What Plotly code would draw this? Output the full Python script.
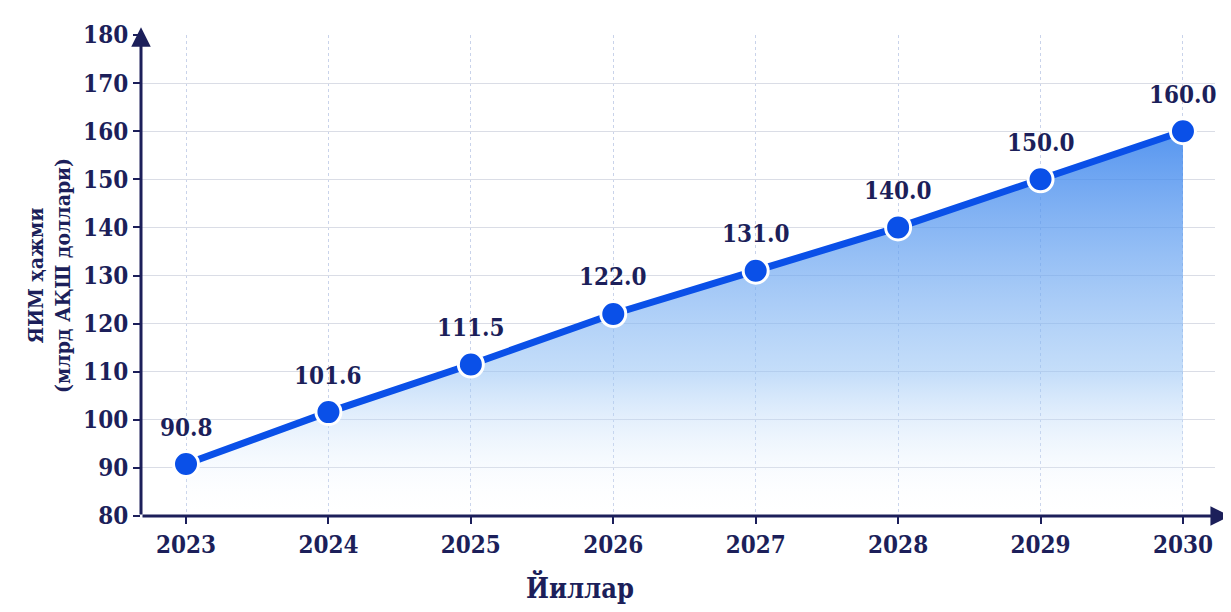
import plotly.graph_objects as go

years = [2023, 2024, 2025, 2026, 2027, 2028, 2029, 2030]
gdp = [90.8, 101.6, 111.5, 122.0, 131.0, 140.0, 150.0, 160.0]
y_ticks = [80, 90, 100, 110, 120, 130, 140, 150, 160, 170, 180]

NAVY = "#1c1f5a"
BLUE = "#0a50e8"
FONT = "DejaVu Serif Condensed"

XMIN, XMAX = 2022.684, 2030.225
YMIN, YMAX = 80, 180

fig = go.Figure()

fig.add_trace(go.Scatter(
    x=years, y=gdp, mode="lines+markers",
    line=dict(color=BLUE, width=7),
    marker=dict(size=25, color=BLUE, line=dict(color="white", width=3)),
    fill="tozeroy",
    fillgradient=dict(
        type="vertical", start=80, stop=165,
        colorscale=[[0, "rgba(255,255,255,0.0)"], [0.35, "rgba(150,195,245,0.55)"],
                    [1, "rgba(40,120,235,0.85)"]],
    ),
    hoverinfo="x+y", showlegend=False,
))

for x, v in zip(years, gdp):
    fig.add_annotation(x=x, y=v, text=f"{v:.1f}", showarrow=False, yshift=37,
                       font=dict(family=FONT, size=24, color=NAVY, weight="bold"))

# axis arrowheads
fig.add_annotation(x=XMIN, y=181.6, ax=XMIN, ay=80, xref="x", yref="y", axref="x", ayref="y",
                   text="", showarrow=True, arrowhead=2, arrowsize=1.3, arrowwidth=3,
                   arrowcolor=NAVY)
fig.add_annotation(x=2030.33, y=80, ax=XMIN, ay=80, xref="x", yref="y", axref="x", ayref="y",
                   text="", showarrow=True, arrowhead=2, arrowsize=1.3, arrowwidth=3,
                   arrowcolor=NAVY)

# x-axis title
fig.add_annotation(x=0.409, y=-0.148, xref="paper", yref="paper", text="Йиллар",
                   showarrow=False, yanchor="middle",
                   font=dict(family=FONT, size=27, color=NAVY, weight="bold"))

fig.update_xaxes(
    range=[XMIN, XMAX], tickmode="array", tickvals=years, ticktext=[str(y) for y in years],
    showgrid=True, gridcolor="#c9d3ea", griddash="dot", gridwidth=1,
    ticks="outside", ticklen=7, tickcolor=NAVY, tickwidth=2,
    tickfont=dict(family=FONT, size=24, color=NAVY, weight="bold"),
    showline=False, zeroline=False,
)
fig.update_yaxes(
    range=[YMIN, YMAX], tickmode="array", tickvals=y_ticks,
    showgrid=True, gridcolor="#dadde6", gridwidth=1,
    ticks="outside", ticklen=7, tickcolor=NAVY, tickwidth=2,
    tickfont=dict(family=FONT, size=24, color=NAVY, weight="bold"),
    showline=False, zeroline=False,
    title=dict(text="ЯИМ ҳажми<br>(млрд АҚШ доллари)",
               font=dict(family=FONT, size=21, color=NAVY, weight="bold"), standoff=6),
)

fig.update_layout(
    width=1231, height=612,
    margin=dict(l=133, r=24, t=25, b=104),
    paper_bgcolor="white", plot_bgcolor="white",
)

fig.write_html("out.html")
